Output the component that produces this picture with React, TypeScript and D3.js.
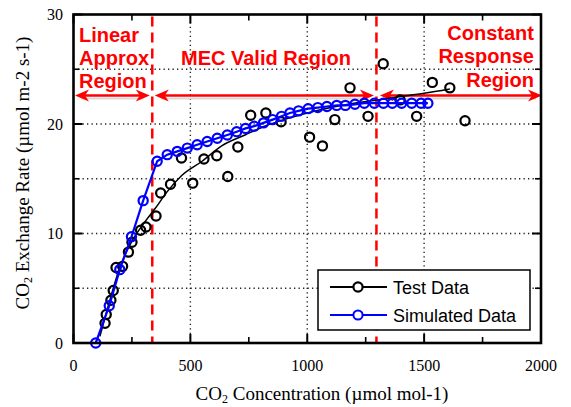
import React from "react";
import * as d3 from "d3";

const W = 571;
const H = 407;

// Test data (black circles)
const testX = [135, 140, 160, 170, 182, 210, 235, 250, 287, 310, 353, 373, 415, 462, 510, 558, 613, 660, 703, 758, 823, 888, 1010, 1065, 1118, 1183, 1260, 1325, 1397, 1468, 1535, 1610, 1675];
const testY = [1.8, 2.6, 3.9, 4.8, 6.9, 7.0, 8.3, 9.2, 10.3, 10.6, 11.6, 13.7, 14.5, 16.9, 14.6, 16.8, 17.1, 15.2, 17.9, 20.8, 21.0, 20.2, 18.8, 18.0, 20.4, 23.3, 20.7, 25.5, 22.2, 20.7, 23.8, 23.3, 20.3];

// Black trend line of the test data
const trendX = [113, 150, 200, 250, 300, 350, 400, 463, 550, 634, 734, 812, 900, 1000, 1100, 1200, 1300, 1400, 1500, 1610];
const trendY = [0.6, 3.5, 7.0, 9.3, 10.9, 12.3, 13.8, 15.3, 16.6, 18.0, 19.0, 19.75, 20.4, 21.0, 21.5, 21.9, 22.2, 22.5, 22.8, 23.2];

// Simulated data (blue)
const simX = [95, 153, 198, 248, 298, 358, 401, 444, 487, 529, 572, 615, 658, 698, 736, 773, 813, 852, 890, 926, 963, 1004, 1045, 1084, 1126, 1163, 1204, 1244, 1287, 1326, 1364, 1404, 1447, 1487, 1516];
const simY = [0, 3.4, 6.7, 9.7, 13.0, 16.6, 17.2, 17.5, 17.8, 18.1, 18.4, 18.7, 19.0, 19.3, 19.6, 19.8, 20.1, 20.4, 20.7, 21.0, 21.2, 21.4, 21.5, 21.6, 21.7, 21.7, 21.8, 21.9, 21.9, 21.9, 21.9, 21.9, 21.9, 21.9, 21.9];

const xTicks = [0, 500, 1000, 1500, 2000];
const xMinor = [250, 750, 1250, 1750];
const yTicks = [0, 10, 20, 30];
const yMinor = [5, 15, 25];
const xGrid = [500, 1000, 1500];
const yGrid = [5, 10, 15, 20, 25];

const regionBounds = [337, 1296];
const arrowLevel = 22.6;

const serif = "'Liberation Serif', 'Times New Roman', serif";
const sans = "'Liberation Sans', Arial, sans-serif";
const RED = "#ff0000";
const BLUE = "#0000ff";

export default function App() {
  const x = d3.scaleLinear().domain([0, 2000]).range([73.5, 541]);
  const y = d3.scaleLinear().domain([0, 30]).range([343, 14.5]);
  const [x0, x1] = x.range();
  const [y0, y1] = y.range();

  const line = d3
    .line<[number, number]>()
    .x((d) => x(d[0]))
    .y((d) => y(d[1]));
  const trendLine = d3
    .line<[number, number]>()
    .x((d) => x(d[0]))
    .y((d) => y(d[1]))
    .curve(d3.curveMonotoneX);

  const simPts: [number, number][] = simX.map((v, i) => [v, simY[i]]);
  const trendPts: [number, number][] = trendX.map((v, i) => [v, trendY[i]]);

  const ay = y(arrowLevel);
  const bx1 = x(regionBounds[0]);
  const bx2 = x(regionBounds[1]);

  const head = (tx: number, dir: number) =>
    `M${tx},${ay} L${tx + dir * 14},${ay - 6} L${tx + dir * 10},${ay} L${tx + dir * 14},${ay + 6} Z`;

  const arrows: [number, number][] = [
    [x0 + 1.5, bx1 - 2.5],
    [bx1 + 2.5, bx2 - 2.5],
    [bx2 + 3.5, x1 + 1],
  ];

  return (
    <svg
      width={W}
      height={H}
      style={{ position: "absolute", left: 0, top: 0, background: "#fff" }}
    >
      <rect x={0} y={0} width={W} height={H} fill="#fff" />
      {/* grid */}
      {xGrid.map((g) => (
        <line key={"gx" + g} x1={x(g)} x2={x(g)} y1={y0} y2={y1} stroke="#222" strokeWidth={1.4} strokeDasharray="1.3,3.2" />
      ))}
      {yGrid.map((g) => (
        <line key={"gy" + g} x1={x0} x2={x1} y1={y(g)} y2={y(g)} stroke="#222" strokeWidth={1.4} strokeDasharray="1.3,3.2" />
      ))}

      {/* ticks inward */}
      {xTicks.map((t) => (
        <g key={"xt" + t}>
          <line x1={x(t)} x2={x(t)} y1={y0} y2={y0 - 9} stroke="#000" strokeWidth={2} />
          <line x1={x(t)} x2={x(t)} y1={y1} y2={y1 + 9} stroke="#000" strokeWidth={2} />
          <text x={x(t)} y={371} textAnchor="middle" fontFamily={serif} fontSize={16} fill="#000">
            {t}
          </text>
        </g>
      ))}
      {xMinor.map((t) => (
        <g key={"xm" + t}>
          <line x1={x(t)} x2={x(t)} y1={y0} y2={y0 - 6} stroke="#000" strokeWidth={1.6} />
          <line x1={x(t)} x2={x(t)} y1={y1} y2={y1 + 6} stroke="#000" strokeWidth={1.6} />
        </g>
      ))}
      {yTicks.map((t) => (
        <g key={"yt" + t}>
          <line x1={x0} x2={x0 + 9} y1={y(t)} y2={y(t)} stroke="#000" strokeWidth={2} />
          <line x1={x1} x2={x1 - 9} y1={y(t)} y2={y(t)} stroke="#000" strokeWidth={2} />
          <text x={63} y={y(t) + 5.5} textAnchor="end" fontFamily={serif} fontSize={16} fill="#000">
            {t}
          </text>
        </g>
      ))}
      {yMinor.map((t) => (
        <g key={"ym" + t}>
          <line x1={x0} x2={x0 + 6} y1={y(t)} y2={y(t)} stroke="#000" strokeWidth={1.6} />
          <line x1={x1} x2={x1 - 6} y1={y(t)} y2={y(t)} stroke="#000" strokeWidth={1.6} />
        </g>
      ))}

      {/* region boundaries */}
      {regionBounds.map((b) => (
        <line key={"rb" + b} x1={x(b)} x2={x(b)} y1={y1 + 2} y2={y0} stroke={RED} strokeWidth={2.5} strokeDasharray="10,6" />
      ))}

      {/* arrows */}
      {arrows.map(([a, b], i) => (
        <g key={"ar" + i}>
          <line x1={a + 6} x2={b - 6} y1={ay + 3} y2={ay + 3} stroke="#d8d8d8" strokeWidth={2} />
          <line x1={a + 8} x2={b - 8} y1={ay} y2={ay} stroke={RED} strokeWidth={2.5} />
          <path d={head(a, 1)} fill={RED} />
          <path d={head(b, -1)} fill={RED} />
        </g>
      ))}

      {/* test data trend line */}
      <path d={trendLine(trendPts) || ""} fill="none" stroke="#000" strokeWidth={1.5} />
      {/* test data circles */}
      {testX.map((v, i) => (
        <circle key={"tc" + i} cx={x(v)} cy={y(testY[i])} r={4.6} fill="none" stroke="#000" strokeWidth={2.2} />
      ))}

      {/* simulated data */}
      <path d={line(simPts) || ""} fill="none" stroke={BLUE} strokeWidth={2.2} />
      {simPts.map((d, i) => (
        <circle key={"sc" + i} cx={x(d[0])} cy={y(d[1])} r={4.6} fill="none" stroke={BLUE} strokeWidth={2.2} />
      ))}

      {/* frame */}
      <rect x={x0} y={y1} width={x1 - x0} height={y0 - y1} fill="none" stroke="#000" strokeWidth={2.6} />

      {/* region labels */}
      <g fontFamily={sans} fontWeight="bold" fontSize={20} fill={RED}>
        <text x={79} y={42}>Linear</text>
        <text x={79} y={65}>Approx</text>
        <text x={79} y={88}>Region</text>
        <text x={181} y={65}>MEC Valid Region</text>
        <text x={534} y={40} textAnchor="end">Constant</text>
        <text x={534} y={63} textAnchor="end">Response</text>
        <text x={534} y={87} textAnchor="end">Region</text>
      </g>

      {/* legend */}
      <g>
        <rect x={318} y={270} width={212} height={60} fill="#fff" stroke="#000" strokeWidth={1.5} />
        <line x1={330} x2={387} y1={287} y2={287} stroke="#000" strokeWidth={2} />
        <circle cx={358} cy={287} r={4.6} fill="#fff" stroke="#000" strokeWidth={2.2} />
        <text x={393} y={293.5} fontFamily={sans} fontSize={18} fill="#000">Test Data</text>
        <line x1={330} x2={387} y1={315} y2={315} stroke={BLUE} strokeWidth={2} />
        <circle cx={358} cy={315} r={4.6} fill="#fff" stroke={BLUE} strokeWidth={2} />
        <text x={393} y={321.5} fontFamily={sans} fontSize={18} fill="#000">Simulated Data</text>
      </g>

      {/* axis titles */}
      <text x={322} y={400} textAnchor="middle" fontFamily={serif} fontSize={19} fill="#000">
        CO<tspan fontSize={12} dy={3}>2</tspan>
        <tspan dy={-3}> Concentration (µmol mol-1)</tspan>
      </text>
      <text
        transform={`translate(29,173) rotate(-90)`}
        textAnchor="middle"
        fontFamily={serif}
        fontSize={19}
        fill="#000"
      >
        CO<tspan fontSize={12} dy={3}>2</tspan>
        <tspan dy={-3}> Exchange Rate (µmol m-2 s-1)</tspan>
      </text>
    </svg>
  );
}
